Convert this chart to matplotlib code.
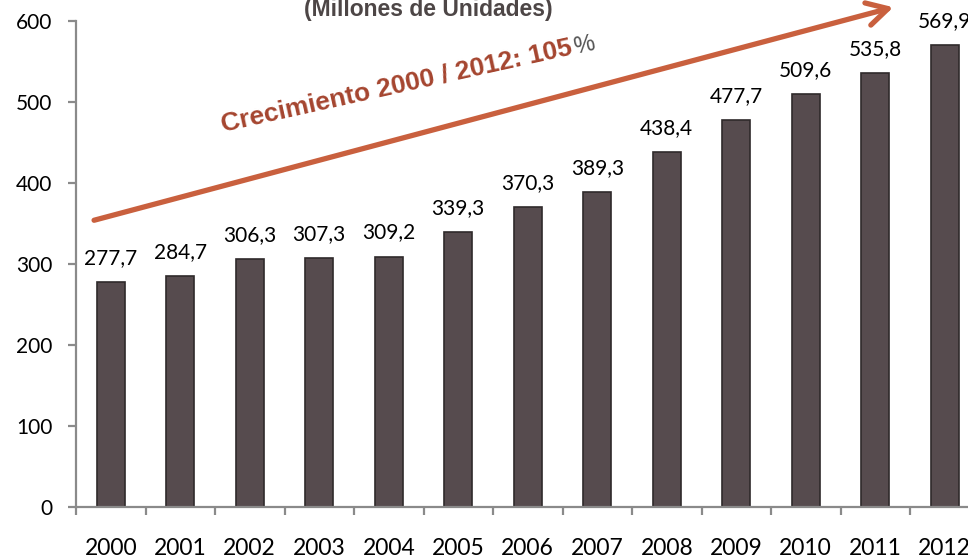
import matplotlib
matplotlib.use('Agg')
from matplotlib import pyplot as plt
import numpy as np

# datos (millones de unidades)
years = ['2000', '2001', '2002', '2003', '2004', '2005', '2006',
         '2007', '2008', '2009', '2010', '2011', '2012']
values = [277.7, 284.7, 306.3, 307.3, 309.2, 339.3, 370.3,
          389.3, 438.4, 477.7, 509.6, 535.8, 569.9]
labels = ['277,7', '284,7', '306,3', '307,3', '309,2', '339,3', '370,3',
          '389,3', '438,4', '477,7', '509,6', '535,8', '569,9']
yticks = [0, 100, 200, 300, 400, 500, 600]

title = '(Millones de Unidades)'
growth_text = 'Crecimiento 2000 / 2012: 105'

W, H = 968, 558
fig = plt.figure(figsize=(W / 100, H / 100), dpi=100)
# eje izquierdo en x=76px, y=0 en 507px, y=600 en 21px, categoria = 69.5px
ax = fig.add_axes([76 / W, (H - 507) / H, 13 * 69.5 / W, (507 - 21) / H])

x = np.arange(len(years))
ax.bar(x, values, width=0.4, color='#564b4e', edgecolor='#2f2a2b', linewidth=1.2)

for xi, v, lab in zip(x, values, labels):
    ax.annotate(lab, (xi, v), xytext=(0, 13), textcoords='offset points',
                ha='center', va='baseline', fontsize=15, family='Lato',
                color='black', annotation_clip=False)

ax.set_xlim(-0.5, len(years) - 0.5)
ax.set_ylim(0, 600)

for s in ['top', 'right']:
    ax.spines[s].set_visible(False)
for s in ['left', 'bottom']:
    ax.spines[s].set_color('#8a8a8a')
    ax.spines[s].set_linewidth(1.6)

ax.set_yticks(yticks)
ax.set_yticklabels([str(t) for t in yticks], fontsize=15, family='Lato')
ax.tick_params(axis='y', length=6, width=1.6, color='#8a8a8a', pad=11)

ax.set_xticks(x)
ax.set_xticklabels(years, fontsize=16.5, family='Lato')
ax.set_xticks(np.arange(len(years) + 1) - 0.5, minor=True)
ax.tick_params(axis='x', which='major', length=0, pad=22)
ax.tick_params(axis='x', which='minor', length=6, width=1.6, color='#8a8a8a')

# flecha de crecimiento
ax.annotate('', xy=(11.26, 617), xytext=(-0.24, 354),
            arrowprops=dict(arrowstyle='->,head_length=1.0,head_width=0.55',
                            mutation_scale=15, lw=3.8, color='#c9603e',
                            shrinkA=0, shrinkB=0),
            annotation_clip=False)

angle = 12.5
anchor = (1.615, 463)
txt_kw = dict(fontsize=19, fontweight='bold', family='Liberation Sans')
ax.text(anchor[0], anchor[1], growth_text, rotation=angle, rotation_mode='anchor',
        ha='left', va='baseline', color='#a5452f', clip_on=False, **txt_kw)

# el "%" va justo al final del texto, en gris y sin negrita
renderer = fig.canvas.get_renderer()
probe = fig.text(0, 0, growth_text, **txt_kw)
text_w = probe.get_window_extent(renderer).width
probe.remove()
px, py = ax.transData.transform(anchor)
rad = np.deg2rad(angle)
px += (text_w + 2) * np.cos(rad)
py += (text_w + 2) * np.sin(rad)
pct_xy = ax.transData.inverted().transform((px, py))
ax.text(pct_xy[0], pct_xy[1], '%', rotation=angle, rotation_mode='anchor',
        ha='left', va='baseline', fontsize=17, family='Liberation Sans',
        color='#555555', clip_on=False)

fig.text(428 / W, 1 - 16 / H, title, ha='center', va='baseline',
         fontsize=16.5, fontweight='bold', family='Liberation Sans',
         color='#4d4646')

fig.savefig('out.png', dpi=100)
